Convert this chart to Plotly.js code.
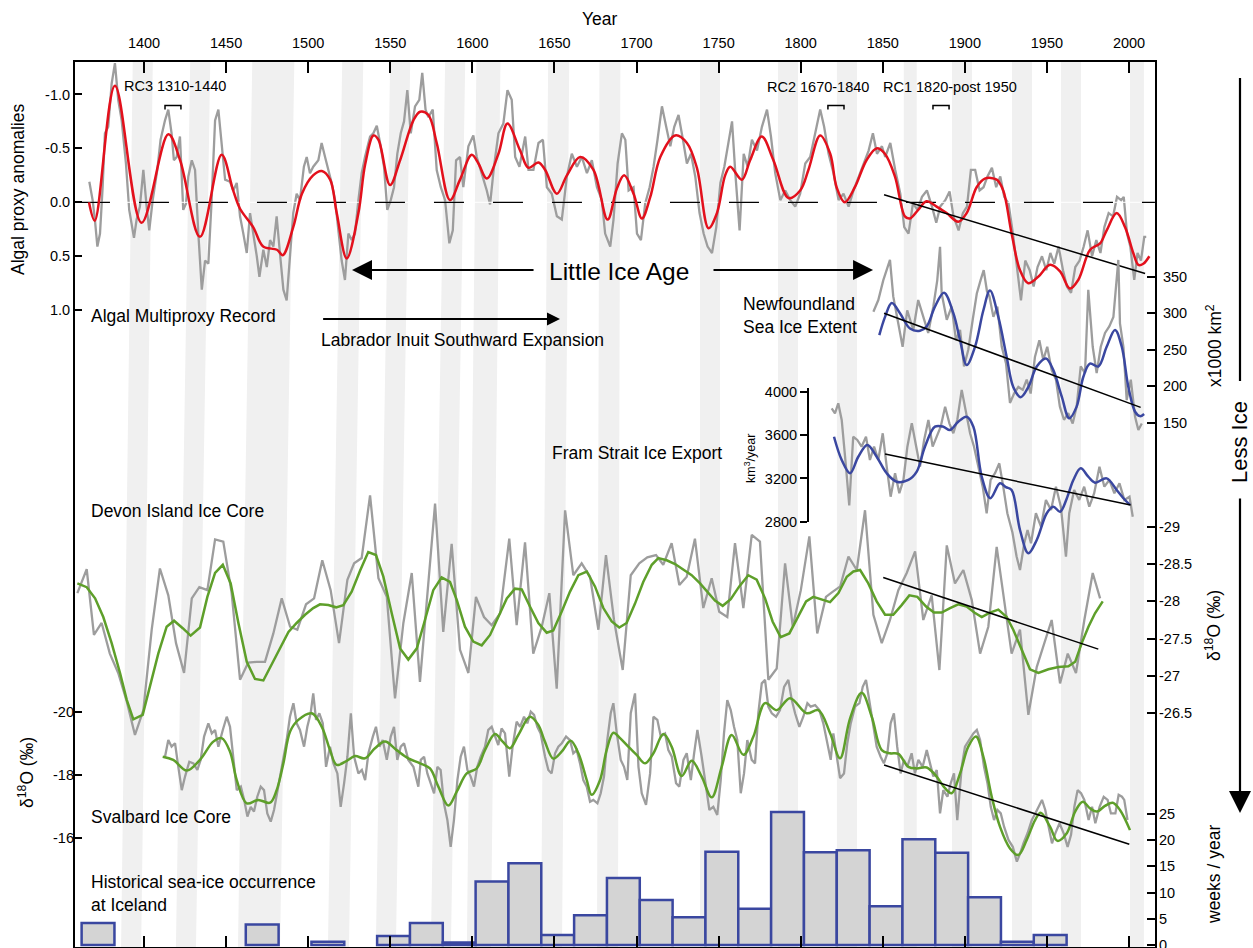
<!DOCTYPE html>
<html>
<head>
<meta charset="utf-8">
<script src="https://cdn.plot.ly/plotly-3.0.1.min.js"></script>
<style>html,body{margin:0;padding:0;background:#fff;}#chart{width:1253px;height:948px;}</style>
</head>
<body>
<div id="chart"></div>
<script>
// ---------------- DATA ----------------
const yearTicks = [1400,1450,1500,1550,1600,1650,1700,1750,1800,1850,1900,1950,2000];

// Algal multiproxy record: [year, anomaly]
const algalRaw = [[1366.7,-0.19],[1368.7,-0.02],[1370.1,0.16],[1371.6,0.41],[1373.2,0.29],[1374.8,-0.14],[1376.2,-0.64],[1378.2,-0.70],[1380.3,-1.10],[1382.3,-1.29],[1384.3,-0.95],[1386.4,-0.76],[1389.0,-0.36],[1391.0,0.07],[1393.9,0.33],[1395.5,0.16],[1397.5,0.04],[1399.6,-0.30],[1401.6,0.04],[1403.2,0.26],[1405.3,-0.02],[1408.1,-0.30],[1410.1,-0.58],[1412.8,-0.76],[1414.8,-0.86],[1416.8,-0.64],[1418.2,-0.39],[1419.9,-0.42],[1421.9,-0.61],[1423.9,0.07],[1425.6,0.01],[1427.0,-0.24],[1429.1,-0.39],[1431.1,-0.30],[1433.1,0.29],[1435.2,0.81],[1437.2,0.54],[1439.2,0.57],[1441.2,-0.02],[1443.3,-0.76],[1445.3,-0.86],[1447.3,-0.52],[1449.4,-0.21],[1452.4,-0.19],[1454.4,-0.11],[1456.5,-0.18],[1458.5,0.13],[1460.5,0.29],[1462.6,0.47],[1464.6,0.10],[1466.6,0.29],[1468.7,0.50],[1470.3,0.69],[1472.7,0.44],[1474.8,0.60],[1476.8,0.35],[1478.8,0.41],[1480.8,0.13],[1482.8,0.47],[1484.9,0.81],[1486.9,0.91],[1488.9,0.54],[1490.9,0.10],[1493.0,-0.08],[1495.0,-0.02],[1497.4,-0.33],[1499.1,-0.42],[1501.1,-0.27],[1503.1,-0.33],[1506.2,-0.39],[1508.2,-0.55],[1510.3,-0.42],[1512.3,-0.30],[1514.3,-0.18],[1516.4,-0.02],[1518.4,0.29],[1520.4,0.54],[1522.4,0.72],[1524.5,0.29],[1526.5,0.35],[1528.5,0.29],[1530.6,-0.02],[1532.6,-0.27],[1534.6,-0.42],[1537.7,-0.61],[1539.7,-0.64],[1541.8,-0.71],[1543.8,-0.55],[1546.2,-0.33],[1548.2,0.07],[1550.3,-0.02],[1552.3,-0.14],[1554.3,-0.45],[1556.4,-0.64],[1558.4,-0.75],[1560.4,-1.04],[1562.5,-0.64],[1565.1,-0.89],[1567.7,-0.95],[1569.5,-1.20],[1571.5,-0.86],[1573.2,-0.79],[1575.9,-0.86],[1578.3,-0.30],[1580.8,-0.14],[1583.4,-0.02],[1586.0,0.38],[1588.1,0.26],[1590.1,-0.39],[1592.5,-0.42],[1594.5,-0.14],[1597.6,-0.52],[1600.6,-0.62],[1602.7,-0.42],[1605.7,-0.27],[1608.8,-0.11],[1610.8,0.02],[1613.2,-0.33],[1615.9,-0.64],[1618.9,-0.73],[1621.4,-1.04],[1624.0,-0.95],[1626.1,-0.42],[1628.7,-0.33],[1632.2,-0.61],[1634.2,-0.30],[1637.2,-0.30],[1640.3,-0.55],[1643.0,-0.58],[1645.4,-0.14],[1648.4,-0.08],[1651.5,0.13],[1654.5,0.16],[1657.6,-0.24],[1660.6,-0.45],[1663.7,-0.33],[1666.7,-0.42],[1669.8,-0.27],[1672.8,-0.39],[1675.9,-0.14],[1678.9,-0.02],[1680.9,0.29],[1684.0,0.41],[1686.0,0.16],[1688.5,-0.36],[1691.1,-0.64],[1693.2,-0.58],[1695.2,-0.11],[1698.2,-0.14],[1700.3,0.29],[1702.7,0.35],[1705.3,0.01],[1708.0,-0.14],[1710.4,-0.33],[1712.8,-0.58],[1715.5,-0.89],[1718.1,-0.70],[1720.6,-0.52],[1723.0,-0.70],[1725.6,-0.81],[1728.3,-0.58],[1730.7,-0.36],[1733.2,-0.45],[1735.8,-0.24],[1738.4,0.10],[1740.9,0.29],[1743.3,0.41],[1746.0,0.47],[1748.6,0.23],[1751.1,-0.18],[1753.5,-0.33],[1756.1,-0.55],[1758.2,-0.75],[1760.2,-0.27],[1762.8,0.26],[1765.3,-0.45],[1767.7,-0.33],[1770.3,-0.58],[1773.4,-0.48],[1776.4,-0.70],[1779.5,-0.86],[1781.9,-0.61],[1784.5,-0.27],[1787.6,-0.02],[1790.6,-0.11],[1793.7,-0.02],[1796.7,0.04],[1799.7,-0.08],[1802.8,-0.36],[1805.8,-0.42],[1808.9,-0.64],[1811.9,-0.86],[1814.3,-0.70],[1817.0,-0.45],[1820.0,-0.27],[1823.1,-0.02],[1826.1,-0.08],[1829.2,0.04],[1832.2,-0.11],[1835.3,-0.24],[1838.3,-0.36],[1841.4,-0.48],[1844.0,-0.64],[1846.5,-0.45],[1849.5,-0.52],[1851.5,-0.42],[1854.6,-0.55],[1857.6,-0.30],[1860.7,-0.08],[1863.1,0.23],[1865.7,0.29],[1868.4,0.01],[1871.2,0.07],[1873.9,-0.05],[1876.9,-0.11],[1880.0,0.04],[1882.6,0.19],[1885.0,0.04],[1888.1,-0.02],[1890.7,-0.10],[1893.1,0.13],[1896.2,0.26],[1898.8,0.10],[1901.3,0.04],[1903.7,-0.30],[1906.3,-0.30],[1909.0,-0.11],[1911.4,-0.14],[1913.8,-0.24],[1916.5,-0.32],[1919.1,-0.14],[1921.6,-0.24],[1924.0,-0.05],[1926.6,0.01],[1929.3,0.29],[1931.7,0.60],[1934.2,0.91],[1936.8,0.54],[1939.5,0.63],[1941.9,0.78],[1944.3,0.60],[1947.0,0.50],[1949.6,0.63],[1952.1,0.47],[1954.5,0.57],[1957.1,0.41],[1959.8,0.63],[1962.2,0.78],[1964.7,0.84],[1967.3,0.60],[1969.9,0.54],[1972.4,0.41],[1974.8,0.26],[1977.5,0.50],[1980.1,0.35],[1982.6,0.47],[1985.0,0.23],[1987.6,0.10],[1990.3,0.13],[1992.7,-0.05],[1995.2,-0.02],[1996.8,-0.05],[1998.8,0.29],[2000.8,0.41],[2003.2,0.72],[2005.2,0.47],[2007.3,0.54],[2009.3,0.32],[2010.5,0.32]];
const algalSmooth = [[1366.5,0],[1370,0.17],[1382.3,-1.08],[1398.5,0.19],[1414.8,-0.63],[1422,-0.39],[1434.1,0.32],[1447.3,-0.44],[1454.3,-0.11],[1458.5,0.06],[1466.5,0.23],[1472.6,0.41],[1481,0.44],[1484.5,0.49],[1490.9,0.23],[1496.2,-0.08],[1503,-0.25],[1508.3,-0.29],[1513.4,-0.21],[1517.4,0.10],[1523.5,0.52],[1530.6,0.10],[1534.7,-0.35],[1539.8,-0.62],[1542.8,-0.58],[1549.9,-0.16],[1556,-0.39],[1564.1,-0.76],[1568.2,-0.84],[1573.2,-0.81],[1578.3,-0.55],[1586.4,-0.02],[1592.5,-0.21],[1599.6,-0.44],[1603.7,-0.36],[1608.8,-0.22],[1615.9,-0.45],[1621.4,-0.73],[1629.1,-0.48],[1634.2,-0.32],[1640.3,-0.37],[1644.4,-0.30],[1651.5,-0.08],[1657.6,-0.25],[1665.7,-0.42],[1673.8,-0.30],[1682.4,0.16],[1688.1,-0.13],[1692.5,-0.25],[1698.2,-0.08],[1703.3,0.15],[1708.4,-0.05],[1714.5,-0.42],[1723.6,-0.62],[1730.7,-0.55],[1736.8,-0.32],[1743.9,0.24],[1749,0.10],[1754,-0.25],[1757.1,-0.33],[1764.2,-0.21],[1769.2,-0.39],[1776.3,-0.61],[1783.4,-0.39],[1792.6,-0.04],[1799.7,-0.11],[1804.7,-0.30],[1811.9,-0.62],[1818,-0.45],[1821.9,-0.14],[1826.9,0.0],[1833,-0.14],[1840.1,-0.39],[1846.2,-0.50],[1851.3,-0.45],[1857.4,-0.24],[1863.5,0.13],[1866.5,0.15],[1871.6,0.07],[1876.7,-0.01],[1882.8,0.04],[1888.9,0.10],[1896,0.18],[1901.1,0.10],[1907.2,-0.14],[1912.2,-0.22],[1919.4,-0.21],[1923.4,-0.11],[1928.5,0.29],[1933.6,0.63],[1938.6,0.75],[1944.7,0.69],[1951.9,0.58],[1958,0.64],[1964,0.80],[1969.1,0.72],[1976.3,0.44],[1982.4,0.38],[1986.4,0.26],[1992.5,0.10],[1997.6,0.23],[2002.6,0.47],[2005.7,0.58],[2008.7,0.57],[2012.4,0.50]];
const algalTrendYears = [1850.8, 2009.8];
const algalTrendVals = [-0.07, 0.66];

// Newfoundland sea ice extent (x1000 km2)
const nfRaw = [[1844.3,302],[1847.3,318],[1850.3,345],[1854.4,373],[1856.4,323],[1859.5,286],[1862.1,254],[1864.9,304],[1868.6,277],[1871.6,318],[1874.7,295],[1877.7,273],[1880.8,309],[1883.2,345],[1884.9,391],[1885.9,327],[1889.0,291],[1892.0,309],[1894.6,263],[1897.1,277],[1899.5,227],[1902.1,250],[1904.8,291],[1907.3,327],[1909.7,346],[1911.5,359],[1913.5,330],[1915.0,323],[1917.4,295],[1919.8,309],[1922.5,254],[1925.1,231],[1927.5,177],[1930.0,190],[1932.6,199],[1935.3,195],[1937.7,209],[1940.1,190],[1942.7,240],[1945.4,263],[1947.8,236],[1950.2,254],[1952.9,222],[1955.5,209],[1957.9,172],[1960.4,154],[1963.0,163],[1965.7,149],[1968.1,172],[1970.6,227],[1973.2,218],[1975.2,332],[1977.9,254],[1980.3,218],[1982.8,254],[1985.4,273],[1988.0,282],[1990.5,295],[1993.5,373],[1994.5,286],[1996.6,254],[1998.6,181],[2001.1,209],[2003.7,158],[2005.7,140],[2007.8,149]];
const nfSmooth = [[1847.9,270],[1851.4,295],[1855.5,314],[1860.5,300],[1866.6,279],[1872.7,276],[1876.8,282],[1881.8,309],[1887.3,328],[1893,300],[1897.1,263],[1901.1,229],[1906.2,254],[1911.3,304],[1915.3,331],[1920.4,295],[1925.5,240],[1929.5,199],[1934,185],[1938.7,199],[1943.8,227],[1949.4,238],[1953.9,222],[1959,186],[1963.6,156],[1968.1,172],[1972.2,213],[1976.2,231],[1981.3,227],[1986.4,254],[1991.5,277],[1995.6,254],[1999.6,199],[2003.7,165],[2006.7,159],[2009.2,162]];
const nfTrendYears = [1850.8, 2007.1];
const nfTrendVals = [300, 171];

// Fram Strait ice export (km3/year)
const framRaw = [[1818.9,3849],[1820.9,3803],[1822.9,3895],[1825,3741],[1827.6,3309],[1829.6,2950],[1832,3586],[1834.5,3556],[1837.1,3494],[1839.8,3586],[1842.2,3371],[1844.7,3494],[1847.3,3371],[1850,3618],[1852.4,3309],[1854.8,3031],[1857.5,3248],[1860.1,3063],[1862.6,3186],[1865,3494],[1867.7,3710],[1870.3,3494],[1872.7,3309],[1875.2,3556],[1877.8,3741],[1880.4,3494],[1882.9,3586],[1885.3,3679],[1888,3864],[1890.6,3710],[1893,3618],[1895.4,3741],[1898.1,4019],[1900.7,3803],[1903.2,3618],[1905.6,3494],[1908.2,3309],[1910.9,3124],[1913.3,2878],[1915.7,3186],[1918.4,3248],[1921,3340],[1923.4,3124],[1925.9,2878],[1929,2700],[1931.5,2480],[1933.6,2353],[1936.2,2600],[1938.2,2723],[1940.3,2600],[1943.3,2878],[1946.4,2754],[1949.4,3001],[1952.5,2908],[1955.5,3124],[1958.5,2939],[1961.6,2476],[1963.6,2878],[1966.6,3093],[1969.7,3001],[1972.7,3124],[1975.8,2939],[1978.8,3063],[1982,3309],[1985,3124],[1988,3186],[1991.1,3063],[1994.2,3155],[1997.2,3001],[2000.3,3031],[2002.3,2846]];
const framSmooth = [[1820.3,3586],[1825,3371],[1830.1,3248],[1835.1,3401],[1840.6,3510],[1846.3,3401],[1852.4,3248],[1858.5,3170],[1865.6,3186],[1870.7,3263],[1875.7,3494],[1881.8,3679],[1886.9,3679],[1891,3648],[1896,3725],[1901.1,3771],[1905.2,3679],[1910.3,3216],[1915.5,3017],[1921.4,3155],[1925,3120],[1928.5,3093],[1933.6,2723],[1938.7,2508],[1943.8,2631],[1949.9,2878],[1953.9,2939],[1958,2892],[1962.1,3015],[1966.1,3186],[1970.6,3294],[1975.2,3216],[1979.3,3161],[1986.4,3201],[1992.5,3093],[1996.6,3017],[2000.6,2955]];
const framTrendYears = [1851.4, 2001];
const framTrendVals = [3426, 2955];

// Devon Island ice core d18O (per mil)
const devonRaw = [[1359.4,-28.11],[1365.1,-28.43],[1369.5,-27.55],[1374.2,-27.71],[1379.2,-27.30],[1384.3,-27.04],[1389.5,-26.66],[1394.5,-26.21],[1399.6,-26.54],[1404.7,-27.62],[1409.7,-28.44],[1414.8,-28.08],[1419.5,-27.44],[1424.4,-27.04],[1429.1,-28.04],[1433.7,-28.19],[1438.6,-28.15],[1443.3,-28.83],[1448.3,-28.80],[1453.4,-28.11],[1458.5,-26.95],[1463.5,-27.18],[1468.6,-27.19],[1473.7,-27.19],[1478.8,-27.57],[1483.9,-28.04],[1489.0,-27.66],[1493.4,-27.62],[1498.7,-27.96],[1503.6,-28.04],[1508.6,-28.55],[1513.7,-28.15],[1518.8,-27.44],[1523.9,-28.29],[1528.0,-28.51],[1532.6,-28.58],[1537.7,-29.42],[1542.8,-28.31],[1547.9,-28.06],[1552.9,-26.70],[1558.0,-27.71],[1563.1,-28.38],[1568.1,-26.92],[1572.6,-28.13],[1577.3,-29.31],[1582.3,-27.59],[1587.4,-28.77],[1592.5,-27.35],[1597.6,-27.04],[1602.2,-28.06],[1607.1,-27.79],[1611.8,-27.68],[1616.9,-27.84],[1622.5,-28.84],[1627.0,-27.68],[1632.1,-28.79],[1637.1,-27.30],[1642.3,-27.66],[1646.9,-28.11],[1651.4,-26.83],[1656.5,-29.22],[1661.5,-28.35],[1666.6,-28.51],[1671.7,-28.33],[1676.8,-27.62],[1681.4,-28.62],[1686.3,-27.75],[1691.6,-27.08],[1696.5,-28.35],[1701.7,-28.51],[1706.6,-28.59],[1711.9,-28.62],[1716.3,-28.49],[1721.4,-28.78],[1726.1,-28.22],[1730.6,-28.33],[1735.6,-28.84],[1740.7,-27.91],[1745.8,-28.31],[1750.4,-27.86],[1755.3,-27.79],[1760.0,-28.78],[1765.1,-27.91],[1770.2,-28.89],[1775.2,-28.80],[1780.3,-26.95],[1785.4,-27.10],[1790.5,-28.51],[1795.2,-27.66],[1800.1,-28.15],[1805.3,-28.87],[1810.1,-27.57],[1815.4,-28.06],[1819.0,-28.12],[1824.1,-28.20],[1829.1,-28.60],[1834.2,-28.42],[1839.2,-29.22],[1844.3,-27.82],[1849.4,-27.44],[1854.4,-27.75],[1859.5,-28.15],[1864.6,-28.38],[1869.7,-28.67],[1874.7,-27.75],[1879.8,-28.08],[1884.5,-27.08],[1889.0,-28.75],[1894.0,-28.24],[1899.1,-28.42],[1904.2,-28.02],[1909.3,-27.30],[1914.3,-27.66],[1919.4,-28.73],[1923.4,-28.11],[1928.5,-27.30],[1933.6,-27.62],[1938.7,-26.48],[1943.8,-27.12],[1948.4,-27.44],[1952.9,-27.75],[1958.0,-26.90],[1962.7,-27.30],[1967.7,-27.04],[1972.8,-27.75],[1977.9,-28.38],[1982.4,-28.04]];
const devonSmooth = [[1359.4,-28.24],[1365.1,-28.19],[1370.2,-28.04],[1375.2,-27.79],[1380.3,-27.44],[1385.4,-27.04],[1389.5,-26.68],[1393.5,-26.42],[1399.2,-26.48],[1403.7,-26.86],[1408.7,-27.30],[1413.8,-27.66],[1418.3,-27.74],[1423.6,-27.64],[1428.4,-27.54],[1434.1,-27.65],[1438.6,-28.06],[1443.3,-28.38],[1448.0,-28.49],[1452.8,-28.24],[1457.5,-27.71],[1462.6,-27.19],[1467.6,-26.96],[1472.7,-26.94],[1477.8,-27.15],[1482.9,-27.37],[1488.0,-27.59],[1493.0,-27.71],[1498.1,-27.82],[1503.1,-27.91],[1507.2,-27.96],[1512.3,-27.95],[1517.0,-27.92],[1521.4,-27.95],[1526.5,-28.13],[1531.6,-28.41],[1536.6,-28.66],[1541.3,-28.62],[1545.8,-28.33],[1550.9,-27.84],[1556.0,-27.37],[1561.0,-27.22],[1566.2,-27.37],[1570.5,-27.70],[1576.2,-28.15],[1581.3,-28.32],[1586.4,-28.26],[1590.5,-28.02],[1595.5,-27.66],[1600.6,-27.46],[1605.7,-27.41],[1610.8,-27.55],[1615.8,-27.79],[1621.0,-28.04],[1626.0,-28.17],[1630.1,-28.16],[1635.1,-27.93],[1640.2,-27.71],[1645.3,-27.58],[1649.3,-27.61],[1654.4,-27.86],[1659.5,-28.13],[1664.6,-28.35],[1669.7,-28.40],[1674.7,-28.20],[1679.8,-27.91],[1684.9,-27.73],[1689.5,-27.65],[1694.0,-27.71],[1699.1,-27.97],[1704.1,-28.26],[1709.3,-28.49],[1713.3,-28.58],[1718.4,-28.55],[1723.5,-28.50],[1728.5,-28.43],[1733.6,-28.35],[1738.7,-28.24],[1742.8,-28.13],[1747.8,-28.01],[1752.5,-27.94],[1757.4,-28.03],[1762.6,-28.20],[1768.1,-28.35],[1773.2,-28.29],[1778.3,-28.04],[1782.9,-27.73],[1787.8,-27.52],[1793.1,-27.57],[1798.0,-27.77],[1803.3,-28.00],[1807.7,-28.06],[1812.8,-28.03],[1817.9,-27.99],[1823.0,-28.11],[1828.1,-28.33],[1832.1,-28.40],[1836.2,-28.42],[1841.2,-28.24],[1846.3,-28.00],[1851.4,-27.82],[1856.4,-27.82],[1861.5,-27.95],[1866.2,-28.08],[1871.1,-28.06],[1876.4,-27.93],[1881.2,-27.85],[1885.9,-27.85],[1891.0,-27.91],[1896.0,-27.96],[1901.1,-27.93],[1905.8,-27.85],[1910.3,-27.79],[1915.3,-27.85],[1920.4,-27.89],[1925.5,-27.79],[1929.5,-27.62],[1934.6,-27.35],[1939.7,-27.09],[1944.8,-27.04],[1950.9,-27.09],[1957.0,-27.12],[1963.1,-27.13],[1967.2,-27.19],[1971.2,-27.44],[1975.3,-27.66],[1979.3,-27.84],[1984.0,-28.00]];
const devonTrendYears = [1850.3, 1981.3];
const devonTrendVals = [-28.32, -27.36];

// Svalbard ice core d18O (per mil)
const svalRaw = [[1412.8,-18.57],[1414.8,-19.10],[1416.8,-18.89],[1418.9,-19.00],[1420.9,-18.25],[1423.0,-17.51],[1425.0,-17.94],[1427.6,-18.41],[1430.1,-18.36],[1432.5,-18.15],[1434.5,-18.47],[1436.6,-19.21],[1439.2,-19.63],[1441.3,-19.31],[1443.3,-19.42],[1445.3,-18.89],[1448.0,-19.42],[1450.4,-19.84],[1452.4,-19.52],[1454.5,-18.36],[1456.5,-17.51],[1459.0,-17.62],[1461.0,-17.20],[1463.0,-16.67],[1465.0,-16.98],[1467.0,-16.83],[1469.0,-17.30],[1471.1,-17.62],[1473.1,-17.51],[1475.1,-16.77],[1477.2,-16.51],[1479.2,-16.88],[1481.8,-17.62],[1484.5,-18.36],[1486.9,-19.10],[1488.9,-19.84],[1491.0,-20.27],[1493.0,-19.63],[1495.0,-19.42],[1497.5,-18.89],[1499.5,-19.52],[1501.5,-19.95],[1503.1,-20.58],[1504.8,-19.74],[1506.8,-19.95],[1508.9,-19.63],[1510.9,-18.25],[1513.3,-18.89],[1515.4,-18.36],[1517.8,-18.04],[1519.8,-16.98],[1521.9,-17.73],[1523.9,-18.57],[1526.0,-19.95],[1528.0,-18.57],[1530.6,-18.04],[1532.7,-18.15],[1534.7,-17.83],[1536.7,-18.68],[1539.4,-19.21],[1541.3,-19.52],[1543.4,-18.89],[1545.4,-19.10],[1547.9,-18.47],[1550.3,-19.21],[1552.3,-19.52],[1554.3,-18.47],[1556.4,-18.89],[1558.4,-19.00],[1561.0,-18.47],[1564.1,-18.25],[1567.1,-17.62],[1568.6,-18.47],[1570.6,-18.57],[1572.6,-18.04],[1574.6,-17.73],[1576.7,-17.41],[1578.7,-18.25],[1580.7,-18.15],[1582.7,-17.09],[1584.8,-16.56],[1586.8,-15.71],[1588.8,-16.56],[1590.9,-17.83],[1592.9,-18.57],[1594.9,-18.89],[1597.0,-18.15],[1599.0,-17.94],[1601.0,-17.62],[1603.0,-18.25],[1605.1,-18.57],[1607.7,-18.89],[1609.7,-19.42],[1611.8,-19.52],[1613.8,-19.21],[1615.8,-18.94],[1617.8,-19.47],[1619.9,-19.31],[1622.5,-17.94],[1624.6,-18.92],[1627.0,-19.68],[1629.1,-19.52],[1631.5,-19.84],[1633.5,-19.63],[1635.6,-20.00],[1637.6,-19.90],[1639.6,-19.52],[1641.6,-19.31],[1644.3,-18.57],[1646.3,-18.15],[1648.3,-18.04],[1650.4,-18.68],[1652.4,-18.89],[1654.5,-19.00],[1657.1,-19.21],[1659.5,-19.10],[1661.5,-18.68],[1663.6,-18.78],[1665.6,-18.36],[1667.6,-17.83],[1669.7,-17.62],[1671.7,-17.14],[1673.7,-17.20],[1676.2,-17.09],[1678.2,-17.41],[1680.2,-17.94],[1682.2,-19.10],[1684.3,-19.95],[1685.9,-20.27],[1688.0,-19.31],[1690.4,-18.47],[1692.4,-18.25],[1694.4,-17.83],[1696.5,-19.95],[1699.1,-20.58],[1701.2,-18.25],[1703.2,-17.41],[1705.8,-17.04],[1708.3,-18.04],[1710.3,-19.84],[1712.7,-19.74],[1714.8,-19.21],[1717.4,-19.31],[1719.4,-18.78],[1721.5,-18.57],[1724.1,-17.73],[1726.1,-17.62],[1728.6,-18.47],[1730.6,-18.68],[1733.1,-17.83],[1735.1,-18.68],[1737.1,-19.42],[1739.7,-18.57],[1741.7,-17.83],[1744.4,-16.88],[1746.8,-16.98],[1749.2,-16.72],[1751.3,-17.83],[1753.3,-19.31],[1755.3,-20.37],[1757.4,-20.05],[1759.4,-19.52],[1761.4,-19.10],[1763.5,-17.41],[1765.5,-18.04],[1767.5,-19.10],[1770.2,-18.47],[1772.2,-18.36],[1774.2,-19.95],[1776.3,-20.90],[1778.3,-21.01],[1780.3,-20.16],[1782.4,-19.95],[1785.0,-19.84],[1787.4,-20.05],[1789.9,-20.79],[1792.5,-21.01],[1794.6,-20.37],[1796.6,-19.95],[1799.2,-19.52],[1801.6,-19.84],[1804.1,-20.27],[1806.1,-20.16],[1808.8,-20.21],[1811.4,-20.05],[1813.8,-19.63],[1816.3,-19.00],[1818.3,-18.47],[1819.9,-19.31],[1822.0,-18.57],[1824.0,-17.89],[1826.4,-18.04],[1828.4,-19.00],[1830.5,-19.63],[1833.1,-20.16],[1835.8,-20.27],[1837.8,-20.79],[1839.8,-21.01],[1841.8,-20.37],[1843.9,-19.63],[1846.3,-18.89],[1848.7,-18.57],[1850.7,-18.36],[1852.8,-18.68],[1854.8,-19.63],[1856.8,-19.95],[1858.8,-18.89],[1860.9,-18.04],[1862.9,-18.47],[1864.9,-18.25],[1867.6,-18.68],[1869.6,-18.04],[1871.7,-18.47],[1874.3,-18.25],[1876.8,-18.78],[1878.8,-18.36],[1880.8,-17.94],[1882.9,-18.15],[1884.9,-16.77],[1886.9,-17.51],[1889.4,-17.30],[1891.4,-17.73],[1893.4,-18.04],[1895.4,-16.56],[1898.1,-18.25],[1900.1,-18.89],[1902.8,-19.10],[1905.2,-19.31],[1907.3,-19.42],[1909.3,-19.10],[1911.7,-18.25],[1913.8,-17.73],[1915.8,-16.98],[1917.8,-16.56],[1919.8,-16.88],[1921.9,-16.77],[1923.9,-16.35],[1926.6,-15.93],[1929.2,-15.71],[1931.7,-15.24],[1933.7,-15.50],[1935.7,-15.82],[1938.2,-16.14],[1940.8,-16.56],[1942.9,-16.77],[1944.9,-16.98],[1947.0,-17.20],[1949.0,-16.88],[1951.0,-16.35],[1953.1,-15.82],[1955.1,-16.14],[1957.7,-16.46],[1960.2,-16.14],[1962.6,-15.71],[1964.7,-16.09],[1966.7,-16.98],[1968.7,-17.51],[1970.8,-17.41],[1972.8,-17.20],[1975.4,-16.56],[1977.5,-16.98],[1979.5,-16.46],[1982.1,-16.98],[1984.6,-17.30],[1987.0,-17.20],[1989.0,-16.77],[1991.7,-16.77],[1993.7,-17.36],[1995.7,-17.30],[1997.1,-17.20],[1999.1,-16.56]];
const svalSmooth = [[1411.4,-18.57],[1417.8,-18.47],[1426,-18.13],[1434.1,-18.47],[1442.2,-19.05],[1447.3,-19.16],[1452.4,-18.73],[1456.5,-17.83],[1462.6,-17.09],[1469.6,-17.20],[1476.8,-17.11],[1480.8,-17.51],[1484.9,-18.36],[1489,-19.37],[1494,-19.74],[1502.2,-19.95],[1508.3,-19.52],[1513.3,-18.78],[1517.4,-18.31],[1523.5,-18.44],[1528.5,-18.59],[1534.6,-18.52],[1540.7,-18.84],[1546.8,-19.05],[1553.9,-18.78],[1561,-18.52],[1568.1,-18.36],[1574.2,-18.20],[1579.3,-17.62],[1585.4,-17.02],[1590.5,-17.46],[1596.6,-18.04],[1602.7,-18.20],[1607.7,-18.78],[1613.8,-19.29],[1618.5,-19.05],[1622.9,-18.84],[1628,-19.26],[1635.1,-19.84],[1640.2,-19.58],[1644.2,-19.05],[1649.3,-18.51],[1654.4,-18.73],[1659.9,-19.08],[1664.6,-18.68],[1669.7,-17.83],[1672.7,-17.36],[1677.8,-17.83],[1681.8,-18.78],[1685.9,-19.33],[1690,-19.16],[1695,-18.89],[1700.1,-18.63],[1705.2,-18.36],[1710.3,-18.68],[1716.4,-19.29],[1721.4,-18.89],[1727.5,-17.96],[1733.6,-18.44],[1739.7,-17.94],[1745.8,-17.28],[1751.9,-18.25],[1758,-19.26],[1765.1,-18.63],[1771.2,-19.21],[1778.3,-20.27],[1785.4,-20.05],[1793.5,-20.43],[1803.7,-19.95],[1810.8,-20.05],[1818,-19.31],[1824,-18.52],[1830.1,-19.79],[1837.2,-20.60],[1843.3,-19.84],[1849.4,-18.78],[1854.4,-18.68],[1859.5,-18.66],[1865.6,-18.25],[1870.7,-18.20],[1876.8,-18.23],[1882.8,-17.94],[1887.9,-17.57],[1892,-17.41],[1897.1,-18.04],[1902.1,-18.89],[1906.8,-19.21],[1911.3,-18.57],[1916.4,-17.30],[1921.4,-16.35],[1927.5,-15.66],[1932.6,-15.45],[1937.7,-15.93],[1942.8,-16.56],[1946.2,-16.79],[1951.9,-16.35],[1956.4,-15.90],[1962.1,-16.14],[1967.2,-16.83],[1971.8,-17.14],[1976.3,-16.93],[1980.4,-16.83],[1985.4,-17.01],[1990.1,-17.11],[1994.5,-16.88],[2000.6,-16.24]];
const svalTrendYears = [1850.8, 2000.2];
const svalTrendVals = [-18.31, -15.79];

// Historical sea-ice occurrence at Iceland (weeks / year), 20-year bins
const iceBins = [1372,1392,1412,1432,1452,1472,1492,1512,1532,1552,1572,1592,1612,1632,1652,1672,1692,1712,1732,1752,1772,1792,1812,1832,1852,1872,1892,1912,1932,1952];
const iceWeeks = [4.2,0,0,0,0,3.9,0,0.6,0,1.7,4.2,0.5,12.1,15.6,1.9,5.7,12.8,8.6,5.3,17.8,6.9,25.4,17.7,18.1,7.4,20.2,17.6,9.1,0.6,1.9];

// Grey shaded periods (start year, end year, drift in years from top to bottom of figure)
const bandStart = [1389.6,1423.8,1461.6,1516.4,1545.6,1579.1,1599.6,1644.0,1676.7,1738.7,1786.2,1822.1,1862.8,1892.2,1928.7,1958.6,2000.6];
const bandEnd   = [1401.8,1436.0,1487.2,1529.2,1557.8,1591.3,1614.2,1656.8,1689.4,1750.9,1798.4,1834.3,1870.7,1904.4,1940.9,1970.8,2009.1];
const bandTilt  = [7.1,8.7,8.7,8.7,8.7,8.7,5.8,4.4,1.5,0,0,0,0,0,0,0,0];

// Rapid-change brackets
const rcLabels = ['RC3 1310-1440','RC2 1670-1840','RC1 1820-post 1950'];
const rcBracketStart = [1412.8,1816.6,1880.6];
const rcBracketEnd = [1422.5,1826.4,1890.4];

// ---------------- LAYOUT HELPERS ----------------
const L = 75, R = 1155, T = 62, B = 947;
const px = x => (x - L) / (R - L);
const py = y => (B - y) / (B - T);
const FONT = 'Liberation Sans, Arial, Helvetica, sans-serif';
const GRAY = '#9d9d9d', RED = '#e3101c', BLUE = '#3a47a0', GREEN = '#5e9f2a';
const xs = a => a.map(p => p[0]);
const ys = a => a.map(p => p[1]);

function ln(x, y, axis, color, width, shape, dash) {
  return {type:'scatter', mode:'lines', x:x, y:y, yaxis:axis, xaxis:'x',
    line:{color:color, width:width, shape:shape || 'linear', smoothing:1, dash:dash || 'solid'},
    hoverinfo:'skip', showlegend:false};
}

const traces = [];
// bars
traces.push({type:'bar', x:iceBins, y:iceWeeks.map(v => v > 0 ? v : null), width:20, yaxis:'y6', xaxis:'x',
  marker:{color:'#d4d4d4', line:{color:BLUE, width:2.5}}, hoverinfo:'skip', showlegend:false});
// algal
traces.push(ln(xs(algalRaw), ys(algalRaw), 'y', GRAY, 2.3));
traces.push(ln([1358, 2015.8], [0, 0], 'y', '#ffffff', 1));
traces.push(ln([1361, 2015.8], [0, 0], 'y', '#000000', 1.2, 'linear', '30px,29px'));
traces.push(ln(xs(algalSmooth), ys(algalSmooth), 'y', RED, 2.5, 'spline'));
// Newfoundland
traces.push(ln(xs(nfRaw), ys(nfRaw), 'y3', GRAY, 2.3));
traces.push(ln(xs(nfSmooth), ys(nfSmooth), 'y3', BLUE, 2.5, 'spline'));
// Fram
traces.push(ln(xs(framRaw), ys(framRaw), 'y4', GRAY, 2.3));
traces.push(ln(xs(framSmooth), ys(framSmooth), 'y4', BLUE, 2.5, 'spline'));
// Devon
traces.push(ln(xs(devonRaw), ys(devonRaw), 'y5', GRAY, 2.3));
traces.push(ln(xs(devonSmooth), ys(devonSmooth), 'y5', GREEN, 2.5));
// Svalbard
traces.push(ln(xs(svalRaw), ys(svalRaw), 'y2', GRAY, 2.3));
traces.push(ln(xs(svalSmooth), ys(svalSmooth), 'y2', GREEN, 2.5, 'spline'));
// trends
traces.push(ln(algalTrendYears, algalTrendVals, 'y', '#000', 1.5));
traces.push(ln(nfTrendYears, nfTrendVals, 'y3', '#000', 1.5));
traces.push(ln(framTrendYears, framTrendVals, 'y4', '#000', 1.5));
traces.push(ln(devonTrendYears, devonTrendVals, 'y5', '#000', 1.5));
traces.push(ln(svalTrendYears, svalTrendVals, 'y2', '#000', 1.5));
// invisible trace so the Fram Strait scale axis is drawn
traces.push({type:'scatter', mode:'markers', x:[1900], y:[3400], xaxis:'x', yaxis:'y7', marker:{opacity:0}, hoverinfo:'skip', showlegend:false});

// shapes
const shapes = [];
bandStart.forEach((s, i) => {
  const e = bandEnd[i], t = bandTilt[i] / 2;
  shapes.push({type:'path', xref:'x', yref:'paper', layer:'below', fillcolor:'#f0f0f0', line:{width:0},
    path:`M${s + t},1 L${e + t},1 L${e - t},0 L${s - t},0 Z`});
});
rcBracketStart.forEach((s, i) => {
  const e = rcBracketEnd[i];
  shapes.push({type:'path', xref:'x', yref:'paper', line:{color:'#000', width:1.5},
    path:`M${s},${py(109.5)} L${s},${py(105.5)} L${e},${py(105.5)} L${e},${py(109.5)}`});
});
// "Less Ice" upper line
shapes.push({type:'line', xref:'paper', yref:'paper', x0:px(1240), x1:px(1240), y0:py(78), y1:py(381), line:{color:'#000', width:2.2}});

const tick = {size:14.5, color:'#000', family:FONT};
const ann = [];
function text(t, x, y, size, opts) {
  ann.push(Object.assign({text:t, xref:'paper', yref:'paper', x:px(x), y:py(y), showarrow:false,
    xanchor:'left', yanchor:'middle', align:'left', font:{size:size, color:'#000', family:FONT}}, opts || {}));
}
// axis titles
text('Year', 600, 19, 17.5, {xanchor:'center'});
text('Algal proxy anomalies', 18, 190, 17.5, {xanchor:'center', textangle:-90});
text('δ<sup>18</sup>O (‰)', 26, 773, 17.5, {xanchor:'center', textangle:-90});
text('x1000 km<sup>2</sup>', 1214, 346, 17.5, {xanchor:'center', textangle:-90});
text('δ<sup>18</sup>O (‰)', 1213, 626, 17.5, {xanchor:'center', textangle:-90});
text('weeks / year', 1214, 875, 17.5, {xanchor:'center', textangle:-90});
text('km<sup>3</sup>/year', 750, 459, 12.5, {xanchor:'center', textangle:-90});
text('Less Ice', 1239, 442, 22, {xanchor:'center', textangle:-90});
// panel labels
text('Algal Multiproxy Record', 89, 316, 17.5);
text('Labrador Inuit Southward Expansion', 319, 340, 17.5);
text('Little Ice Age', 619, 271, 24.5, {xanchor:'center'});
text('Newfoundland<br>Sea Ice Extent', 741, 315.5, 17.5);
text('Fram Strait Ice Export', 550, 453, 17.5);
text('Devon Island Ice Core', 89, 511, 17.5);
text('Svalbard Ice Core', 89, 817, 17.5);
text('Historical sea-ice occurrence<br>at Iceland', 89, 893, 17.5);
text(rcLabels[0], 122, 86, 14.5);
text(rcLabels[1], 765, 87, 14.5);
text(rcLabels[2], 881, 87, 14.5);
// arrows
function arrow(x0, x1, y, size) {
  ann.push({xref:'x', yref:'y', axref:'x', ayref:'y', x:x1, y:y, ax:x0, ay:y, text:'', showarrow:true,
    arrowhead:2, arrowsize:size, arrowwidth:2, arrowcolor:'#000'});
}
arrow(1638.2, 1526.7, 0.628, 2);
arrow(1746.0, 1844.1, 0.628, 2);
arrow(1508.2, 1653.4, 1.082, 1.3);
ann.push({xref:'paper', yref:'paper', x:px(1240), y:py(813), ax:0, ay:-316, text:'', showarrow:true,
  arrowhead:2, arrowsize:2, arrowwidth:2.2, arrowcolor:'#000'});

const baseY = {showgrid:false, zeroline:false, tickfont:tick, tickcolor:'#000', linecolor:'#000', fixedrange:true};
const layout = {
  width:1253, height:948, margin:{l:L, r:1253 - R, t:T, b:948 - B},
  paper_bgcolor:'#fff', plot_bgcolor:'rgba(0,0,0,0)', font:{family:FONT, color:'#000'},
  showlegend:false, hovermode:false, bargap:0,
  xaxis:{range:[1357.97, 2015.84], side:'top', anchor:'y', tickvals:yearTicks, ticktext:yearTicks.map(String),
    ticks:'inside', ticklen:11, tickwidth:2, tickcolor:'#000', showline:true, linewidth:2, linecolor:'#000',
    mirror:'ticks', showgrid:false, zeroline:false, tickfont:tick, ticklabelstandoff:6, fixedrange:true},
  yaxis:Object.assign({}, baseY, {domain:[0,1], range:[6.905,-1.301], side:'left', tickvals:[-1,-0.5,0,0.5,1],
    ticktext:['-1.0','-0.5','0.0','0.5','1.0'], ticks:'inside', ticklen:7, tickwidth:2, showline:true, linewidth:2}),
  yaxis2:Object.assign({}, baseY, {overlaying:'y', side:'left', range:[-12.53,-40.625], tickvals:[-20,-18,-16],
    ticktext:['-20','-18','-16'], ticks:'inside', ticklen:7, tickwidth:2, showline:false}),
  yaxis3:Object.assign({}, baseY, {overlaying:'y', side:'right', range:[-568.2,644.1], tickvals:[150,200,250,300,350],
    ticks:'inside', ticklen:8, tickwidth:2, showline:true, linewidth:2, ticklabelstandoff:3}),
  yaxis4:Object.assign({}, baseY, {overlaying:'y', visible:false, range:[-1135,7053]}),
  yaxis5:Object.assign({}, baseY, {overlaying:'y', side:'right', range:[-23.369,-35.226],
    tickvals:[-29,-28.5,-28,-27.5,-27,-26.5], ticktext:['-29','-28.5','-28','-27.5','-27','-26.5'],
    ticks:'inside', ticklen:8, tickwidth:2, showline:false, ticklabelstandoff:3}),
  yaxis6:Object.assign({}, baseY, {overlaying:'y', side:'right', range:[-0.382,168.5], tickvals:[0,5,10,15,20,25],
    ticks:'inside', ticklen:8, tickwidth:2, showline:false, ticklabelstandoff:3, ticklabeloverflow:'allow'}),
  yaxis7:Object.assign({}, baseY, {domain:[py(522), py(388)], anchor:'free', position:px(808), side:'left',
    range:[2797.2,4037], tickvals:[2800,3200,3600,4000], ticks:'outside', ticklen:7, tickwidth:2,
    showline:true, linewidth:2}),
  shapes:shapes, annotations:ann
};

Plotly.newPlot('chart', traces, layout, {displayModeBar:false, staticPlot:true});
</script>
</body>
</html>
